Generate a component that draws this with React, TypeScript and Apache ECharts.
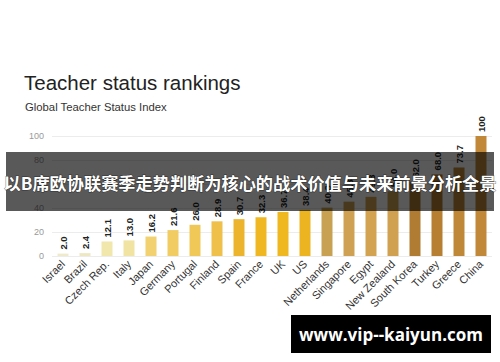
import React, { useEffect, useRef } from "react";
import * as echarts from "echarts";

const categories = [
  "Israel", "Brazil", "Czech Rep.", "Italy", "Japan", "Germany", "Portugal", "Finland", "Spain", "France",
  "UK", "US", "Netherlands", "Singapore", "Egypt", "New Zealand", "South Korea", "Turkey", "Greece", "China",
];
const values = [2.0, 2.4, 12.1, 13.0, 16.2, 21.6, 26.0, 28.9, 30.7, 32.3, 36.7, 38.4, 40.3, 45.3, 49.3, 54.0, 62.0, 68.0, 73.7, 100];
const barColors = [
  "#eeeacb", "#ede7c2", "#f1e6ab", "#f1e3a2", "#f1d170", "#f1cc62", "#f0c858", "#efc04a", "#ebb42c", "#efb822",
  "#efb820", "#edb421", "#c9a152", "#cfa253", "#d3a352", "#cfa150", "#b07b32", "#b77f31", "#bf8838", "#c08838",
];
const yTicks = { min: 0, max: 100, interval: 20 };
const titleText = "Teacher status rankings";
const subtitleText = "Global Teacher Status Index";
const bannerText = "以B席欧协联赛季走势判断为核心的战术价值与未来前景分析全景";
const watermarkText = "www.vip--kaiyun.com";

export default function App() {
  const ref = useRef<HTMLDivElement>(null);
  useEffect(() => {
    if (!ref.current) return;
    const chart = echarts.init(ref.current, undefined, { renderer: "svg" });
    chart.setOption({
      animation: false,
      backgroundColor: "#ffffff",
      title: [
        {
          text: titleText,
          left: 19,
          top: 67,
          textStyle: { fontSize: 20.5, fontWeight: "normal", color: "#222", fontFamily: "Liberation Sans, Arial, sans-serif" },
        },
        {
          text: subtitleText,
          left: 20,
          top: 96,
          textStyle: { fontSize: 11.3, fontWeight: "normal", color: "#333", fontFamily: "Liberation Sans, Arial, sans-serif" },
        },
      ],
      grid: { left: 52, right: 8, top: 136, bottom: 106, containLabel: false },
      xAxis: {
        type: "category",
        data: categories,
        axisLine: { show: false },
        axisTick: { show: false },
        axisLabel: {
          rotate: 45,
          interval: 0,
          margin: 6,
          fontSize: 11,
          color: "#333",
          fontFamily: "Liberation Sans, Arial, sans-serif",
        },
      },
      yAxis: {
        type: "value",
        min: yTicks.min,
        max: yTicks.max,
        interval: yTicks.interval,
        axisLine: { show: false },
        axisTick: { show: false },
        axisLabel: { fontSize: 9, color: "#999", margin: 8, fontFamily: "Liberation Sans, Arial, sans-serif" },
        splitLine: { lineStyle: { color: "#ececec", width: 1 } },
      },
      series: [
        {
          type: "bar",
          barWidth: 11,
          data: values.map((v, i) => ({ value: v, itemStyle: { color: barColors[i] } })),
          label: {
            show: true,
            position: "top",
            rotate: 90,
            align: "left",
            verticalAlign: "middle",
            distance: 4,
            fontSize: 9.5,
            fontWeight: "bold",
            color: "#222",
            fontFamily: "Liberation Sans, Arial, sans-serif",
            formatter: (p: any) => (p.value === 100 ? "100" : Number(p.value).toFixed(1)),
          },
        },
      ],
      graphic: [
        {
          type: "rect",
          z: 100,
          shape: { x: 6, y: 152, width: 488, height: 59 },
          style: { fill: "rgba(0,0,0,0.65)" },
        },
        {
          type: "text",
          z: 101,
          x: 250,
          y: 182,
          style: {
            text: bannerText,
            fill: "#ffffff",
            fontSize: 17.2,
            fontWeight: "bold",
            fontFamily: "Noto Sans CJK SC, sans-serif",
            align: "center",
            verticalAlign: "middle",
            stroke: "rgba(0,0,0,0.5)",
            lineWidth: 1,
          },
        },
        {
          type: "rect",
          z: 100,
          shape: { x: 291, y: 315, width: 200, height: 38 },
          style: { fill: "#000000" },
        },
        {
          type: "text",
          z: 101,
          x: 391,
          y: 334,
          style: {
            text: watermarkText,
            fill: "#ffffff",
            fontSize: 17,
            fontWeight: "bold",
            fontFamily: "Open Sans, Liberation Sans, sans-serif",
            align: "center",
            verticalAlign: "middle",
          },
        },
      ],
    });
    return () => chart.dispose();
  }, []);
  return <div ref={ref} style={{ width: 500, height: 362, position: "absolute", left: 0, top: 0 }} />;
}
